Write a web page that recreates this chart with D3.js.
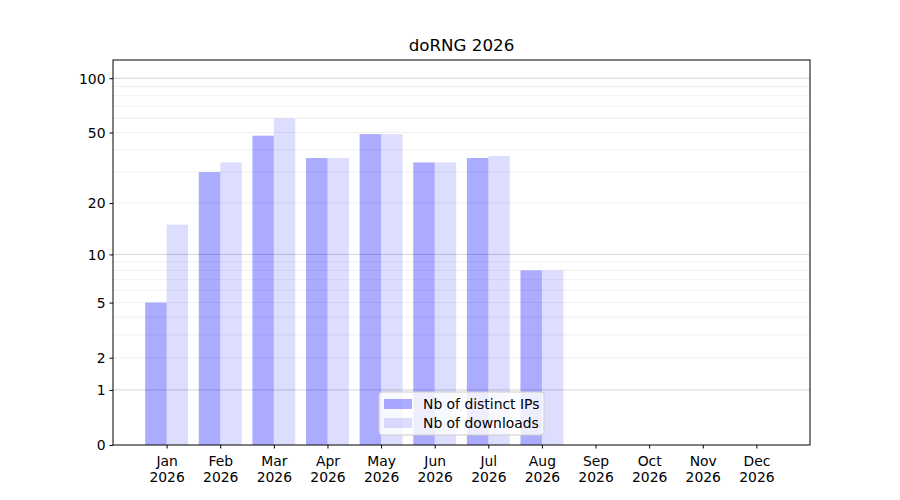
<!DOCTYPE html>
<html>
<head>
<meta charset="utf-8">
<script src="https://cdn.jsdelivr.net/npm/d3@7"></script>
<style>
  body { margin: 0; background: #fff; }
  svg { font-family: "DejaVu Sans", sans-serif; }
</style>
</head>
<body>
<svg id="chart" width="900" height="500"></svg>
<script>
// chart data
var months = ['Jan', 'Feb', 'Mar', 'Apr', 'May', 'Jun', 'Jul', 'Aug', 'Sep', 'Oct', 'Nov', 'Dec'];
var year = '2026';
var distinctIPs = [5, 30, 48, 36, 49, 34, 36, 8, null, null, null, null];
var downloads = [15, 34, 60, 36, 49, 34, 37, 8, null, null, null, null];
var yTicks = [0, 1, 2, 5, 10, 20, 50, 100];
var majorGrid = [1, 10, 100];
var minorGrid = [2, 3, 4, 5, 6, 7, 8, 9, 20, 30, 40, 50, 60, 70, 80, 90];

var margin = { top: 60, right: 90, bottom: 55, left: 113 };
var width = 900 - margin.left - margin.right;
var height = 500 - margin.top - margin.bottom;
var fs = 13.9;

var svg = d3.select('#chart')
    .append('g')
    .attr('transform', 'translate(' + margin.left + ',' + margin.top + ')');

// x: month index, bars offset by a width of 0.4
var x = d3.scaleLinear().domain([-1, 12]).range([0, width]);
var barW = 0.4;

// y: log10(1 + v)
var yT = d3.scaleLinear().domain([0, Math.log10(127)]).range([height, 0]);
var y = function (v) { return yT(Math.log10(1 + v)); };

// grid
svg.selectAll('.minor').data(minorGrid).enter().append('line')
    .attr('x1', 0).attr('x2', width)
    .attr('y1', function (d) { return y(d); })
    .attr('y2', function (d) { return y(d); })
    .attr('stroke', '#ebebeb').attr('stroke-width', 0.8);
svg.selectAll('.major').data(majorGrid).enter().append('line')
    .attr('x1', 0).attr('x2', width)
    .attr('y1', function (d) { return y(d); })
    .attr('y2', function (d) { return y(d); })
    .attr('stroke', '#c8c8c8').attr('stroke-width', 0.8);

// bars
function drawBars(values, offset, opacity) {
    svg.append('g').selectAll('rect')
        .data(values.map(function (v, i) { return { i: i, v: v }; })
            .filter(function (d) { return d.v != null; }))
        .enter().append('rect')
        .attr('x', function (d) { return x(d.i + offset); })
        .attr('width', x(barW) - x(0))
        .attr('y', function (d) { return y(d.v); })
        .attr('height', function (d) { return height - y(d.v); })
        .attr('fill', 'blue')
        .attr('fill-opacity', opacity);
}
drawBars(distinctIPs, -barW, 0.33);
drawBars(downloads, 0, 0.135);

// axes frame
svg.append('rect')
    .attr('width', width).attr('height', height)
    .attr('fill', 'none').attr('stroke', '#000').attr('stroke-width', 1);

var xAxis = svg.append('g')
    .attr('transform', 'translate(0,' + height + ')')
    .call(d3.axisBottom(x).tickValues(d3.range(12)).tickSize(3.5).tickPadding(4).tickFormat(''));
xAxis.select('.domain').remove();
xAxis.selectAll('.tick').append('text')
    .attr('fill', '#000').attr('font-size', fs).attr('text-anchor', 'middle')
    .selectAll('tspan')
    .data(function (d) { return [months[d], year]; })
    .enter().append('tspan')
    .attr('x', 0)
    .attr('y', function (d, j) { return 21 + j * 15.5; })
    .text(function (d) { return d; });

var yAxis = svg.append('g')
    .call(d3.axisLeft(yT).tickValues(yTicks.map(function (t) { return Math.log10(1 + t); }))
        .tickSize(3.5).tickPadding(4)
        .tickFormat(function (d, k) { return yTicks[k]; }));
yAxis.select('.domain').remove();
yAxis.selectAll('text').attr('font-size', fs).attr('font-family', 'DejaVu Sans').attr('dy', '0.35em');
xAxis.selectAll('text').attr('font-family', 'DejaVu Sans');

// title
svg.append('text')
    .attr('x', width / 2).attr('y', -9)
    .attr('text-anchor', 'middle').attr('font-size', 16.7)
    .text('doRNG ' + year);

// legend
var legend = svg.append('g').attr('transform', 'translate(' + (379 - margin.left) + ',' + (392 - margin.top) + ')');
legend.append('rect')
    .attr('width', 165).attr('height', 43).attr('rx', 3)
    .attr('fill', '#fff').attr('fill-opacity', 0.8)
    .attr('stroke', '#ccc').attr('stroke-width', 1);
var items = [['Nb of distinct IPs', 0.33], ['Nb of downloads', 0.135]];
items.forEach(function (it, k) {
    legend.append('rect')
        .attr('x', 5).attr('y', 7 + k * 19)
        .attr('width', 28).attr('height', 10)
        .attr('fill', 'blue').attr('fill-opacity', it[1]);
    legend.append('text')
        .attr('x', 44).attr('y', 12 + k * 19).attr('dy', '0.35em')
        .attr('font-size', fs)
        .text(it[0]);
});
</script>
</body>
</html>
